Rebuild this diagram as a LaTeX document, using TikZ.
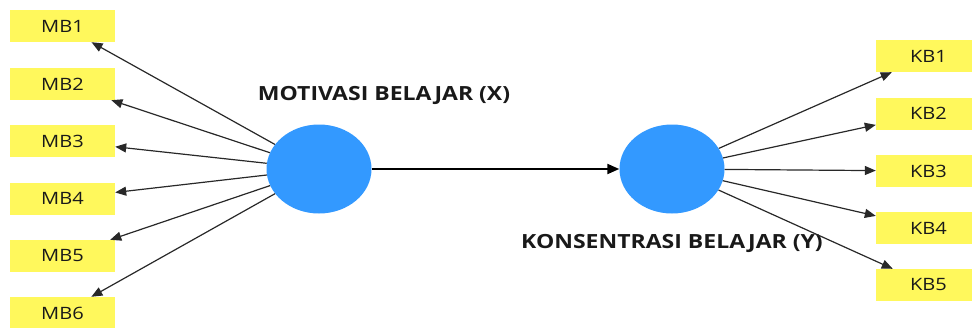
\documentclass[tikz,border=0pt]{standalone}
\usepackage{fontspec}
\setmainfont{Open Sans}[FakeStretch=1.18]
\usetikzlibrary{shapes.geometric,arrows.meta}
\definecolor{boxyellow}{RGB}{255,248,92}
\definecolor{latblue}{RGB}{51,153,255}
\definecolor{linegray}{RGB}{40,40,40}
\begin{document}
\begin{tikzpicture}[x=1pt,y=-1pt,
  ind/.style={fill=boxyellow,draw=none,minimum width=105pt,minimum height=32pt,inner sep=0pt,font=\fontsize{17}{17}\selectfont,text=black!90},
  lat/.style={ellipse,fill=latblue,draw=none,minimum width=105pt,minimum height=89pt,inner sep=0pt},
  lbl/.style={font=\bfseries\fontsize{19.5}{19.5}\selectfont,text=black!90},
  link/.style={draw=linegray,line width=1.2pt,-{Triangle[length=11pt,width=9pt]}},
  main/.style={draw=black,line width=2pt,-{Triangle[length=12pt,width=10pt]}}]
\useasboundingbox (0,0) rectangle (972,327);
\node[lat] (x) at (319,169) {};
\node[lat] (y) at (672,169) {};
\node[ind] (mb1) at (62.5,26) {MB1};
\node[ind] (mb2) at (62.5,84) {MB2};
\node[ind] (mb3) at (62.5,141) {MB3};
\node[ind] (mb4) at (62.5,198.5) {MB4};
\node[ind] (mb5) at (62.5,256) {MB5};
\node[ind] (mb6) at (62.5,313) {MB6};
\node[ind] (kb1) at (928.5,56) {KB1};
\node[ind] (kb2) at (928.5,113.5) {KB2};
\node[ind] (kb3) at (928.5,171) {KB3};
\node[ind] (kb4) at (928.5,228) {KB4};
\node[ind] (kb5) at (928.5,285) {KB5};
\node[lbl] (lx) at (384,95) {MOTIVASI BELAJAR (X)};
\node[lbl] (ly) at (672,243) {KONSENTRASI BELAJAR (Y)};
\foreach \i in {1,...,6} \draw[link] (x) -- (mb\i);
\foreach \i in {1,...,5} \draw[link] (y) -- (kb\i);
\draw[main] (x) -- (y);
\end{tikzpicture}
\end{document}
